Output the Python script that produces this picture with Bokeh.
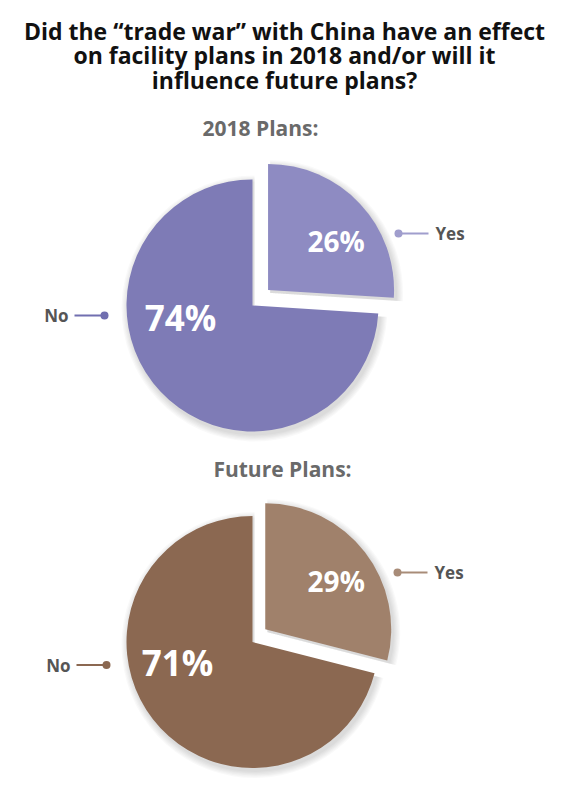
import math
from bokeh.plotting import figure
from bokeh.models import Range1d
from bokeh.core.properties import value
from bokeh.embed import file_html
from bokeh.resources import INLINE

# ---- data ----
title_lines = ["Did the \u201ctrade war\u201d with China have an effect",
               "on facility plans in 2018 and/or will it",
               "influence future plans?"]
categories = ["Yes", "No"]
plans_2018 = [26, 74]
plans_future = [29, 71]
pie_titles = ["2018 Plans:", "Future Plans:"]

# ---- layout / style ----
W, H = 557, 784
FONT = "Open Sans"

def X(px):
    return px

def Y(py):
    return H - py

pies = [
    dict(values=plans_2018, title=pie_titles[0], title_xy=(260, 127),
         center=(252, 305), explode=22,
         colors=["#8e8bc2", "#7e7bb6"], dot_colors=["#a09ecd", "#716fb0"],
         pct_off=[(68, 49), (-72, -12)], pct_size=["28px", "35px"],
         yes_dot=(398, 233), no_dot=(104, 315)),
    dict(values=plans_future, title=pie_titles[1], title_xy=(282, 468),
         center=(252, 641.5), explode=18,
         colors=["#a0816b", "#8b6851"], dot_colors=["#a88c78", "#8b6851"],
         pct_off=[(71, 48), (-75, -20)], pct_size=["28px", "35px"],
         yes_dot=(397, 572), no_dot=(106, 664.5)),
]
R = 126

p = figure(width=W, height=H, output_backend="svg", toolbar_location=None,
           x_range=Range1d(0, W), y_range=Range1d(0, H), min_border=0)
p.axis.visible = False
p.grid.visible = False
p.outline_line_color = None
p.background_fill_color = "white"
p.border_fill_color = "white"

# title
for i, line in enumerate(title_lines):
    p.text(x=[X(284)], y=[Y(30 + i * 24.5)], text=[line], text_align="center",
           text_baseline="middle", text_font=value(FONT), text_font_style="bold",
           text_font_size="23px", text_color="#111111")

for pie in pies:
    vals = pie["values"]
    total = sum(vals)
    cx, cy = X(pie["center"][0]), Y(pie["center"][1])
    yes_span = 2 * math.pi * vals[0] / total
    top = math.pi / 2
    yes_start, yes_end = top - yes_span, top
    no_start, no_end = top, top - yes_span + 2 * math.pi
    ex = pie["explode"] * math.cos(math.pi / 4)
    ey = pie["explode"] * math.sin(math.pi / 4)
    slices = [
        (cx + ex, cy + ey, yes_start, yes_end),
        (cx, cy, no_start, no_end),
    ]
    # soft shadow
    for k in range(6):
        for (sx, sy, a0, a1) in slices:
            p.wedge(x=[sx + 2], y=[sy - 3], radius=R + 1 + k * 1.2,
                    start_angle=a0, end_angle=a1, fill_color="black",
                    fill_alpha=0.025, line_color=None)
    for j, (sx, sy, a0, a1) in enumerate(slices):
        p.wedge(x=[sx], y=[sy], radius=R, start_angle=a0, end_angle=a1,
                fill_color=pie["colors"][j], line_color=None)
        ox, oy = pie["pct_off"][j]
        bx = cx + ex if j == 0 else cx
        by = cy + ey if j == 0 else cy
        p.text(x=[bx + ox], y=[by + oy], text=["%d%%" % vals[j]],
               text_align="center", text_baseline="middle",
               text_font=value(FONT), text_font_style="bold",
               text_font_size=pie["pct_size"][j], text_color="white")
    # pie title
    tx, ty = pie["title_xy"]
    p.text(x=[X(tx)], y=[Y(ty)], text=[pie["title"]], text_align="center",
           text_baseline="middle", text_font=value(FONT), text_font_style="bold",
           text_font_size="21px", text_color="#6a6a6a")
    # Yes callout
    dx, dy = pie["yes_dot"]
    p.line(x=[X(dx), X(dx + 30)], y=[Y(dy), Y(dy)], line_color=pie["dot_colors"][0],
           line_width=2)
    p.scatter(x=[X(dx)], y=[Y(dy)], size=8, marker="circle",
              fill_color=pie["dot_colors"][0], line_color=None)
    p.text(x=[X(dx + 37)], y=[Y(dy)], text=[categories[0]], text_align="left",
           text_baseline="middle", text_font=value(FONT), text_font_style="bold",
           text_font_size="17px", text_color="#555555")
    # No callout
    dx, dy = pie["no_dot"]
    p.line(x=[X(dx - 30), X(dx)], y=[Y(dy), Y(dy)], line_color=pie["dot_colors"][1],
           line_width=2)
    p.scatter(x=[X(dx)], y=[Y(dy)], size=8, marker="circle",
              fill_color=pie["dot_colors"][1], line_color=None)
    p.text(x=[X(dx - 36)], y=[Y(dy)], text=[categories[1]], text_align="right",
           text_baseline="middle", text_font=value(FONT), text_font_style="bold",
           text_font_size="17px", text_color="#555555")

open("out.html", "w").write(file_html(p, INLINE))
